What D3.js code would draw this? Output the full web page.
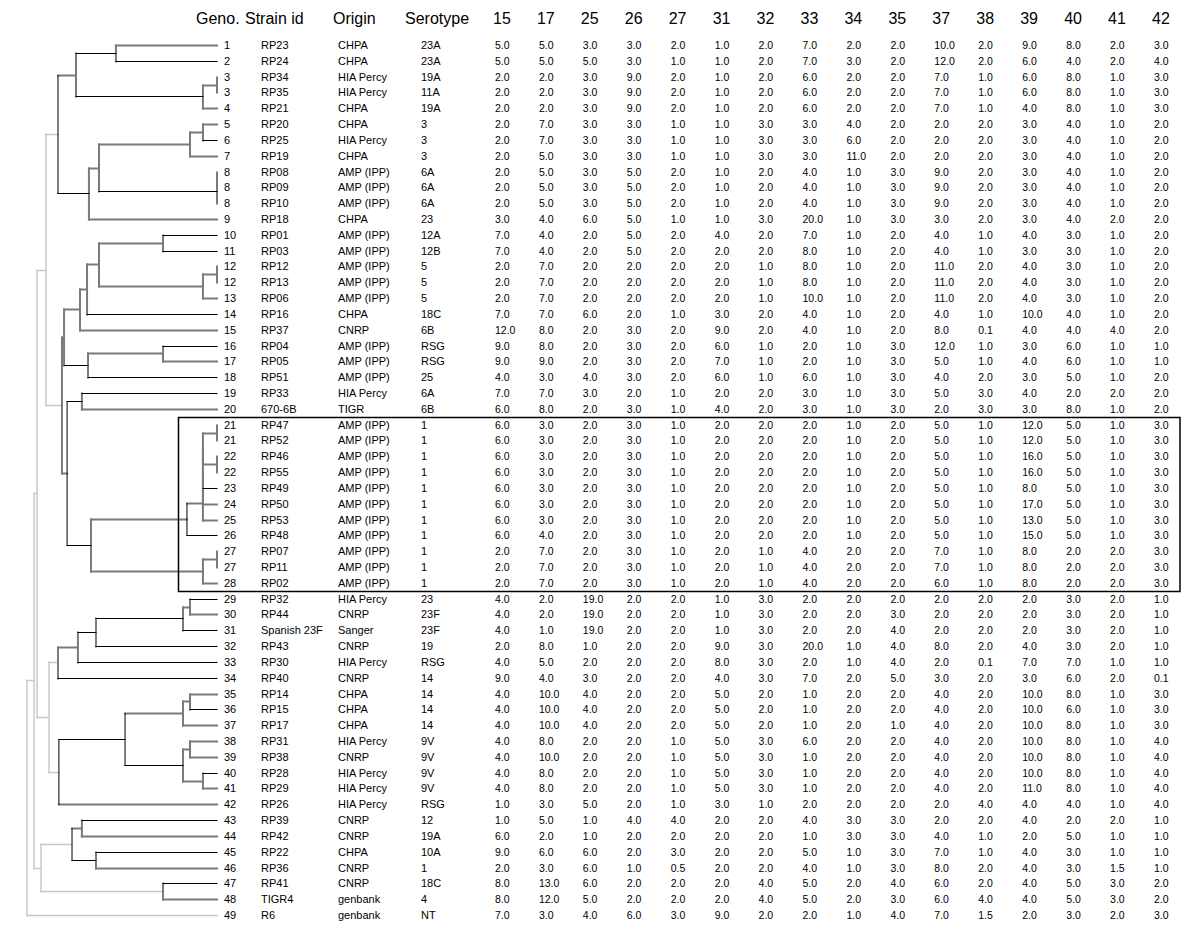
<!DOCTYPE html>
<html>
<head>
<meta charset="utf-8">
<script src="https://cdn.jsdelivr.net/npm/d3@7"></script>
<style>
body { margin: 0; background: #fff; }
svg text { font-family: "Liberation Sans", Arial, sans-serif; fill: #000; }
</style>
</head>
<body>
<div id="chart"></div>
<script>
// MLVA table with UPGMA-like dendrogram

const loci = ["15", "17", "25", "26", "27", "31", "32", "33", "34", "35", "37", "38", "39", "40", "41", "42"];

const genotypes = [1, 2, 3, 3, 4, 5, 6, 7, 8, 8, 8, 9, 10, 11, 12, 12, 13, 14, 15, 16, 17, 18, 19, 20,
    21, 21, 22, 22, 23, 24, 25, 26, 27, 27, 28,
    29, 30, 31, 32, 33, 34, 35, 36, 37, 38, 39, 40, 41, 42, 43, 44, 45, 46, 47, 48, 49];

const strainIds = ["RP23", "RP24", "RP34", "RP35", "RP21", "RP20", "RP25", "RP19", "RP08", "RP09", "RP10", "RP18",
    "RP01", "RP03", "RP12", "RP13", "RP06", "RP16", "RP37", "RP04", "RP05", "RP51", "RP33", "670-6B",
    "RP47", "RP52", "RP46", "RP55", "RP49", "RP50", "RP53", "RP48", "RP07", "RP11", "RP02",
    "RP32", "RP44", "Spanish 23F", "RP43", "RP30", "RP40", "RP14", "RP15", "RP17", "RP31", "RP38",
    "RP28", "RP29", "RP26", "RP39", "RP42", "RP22", "RP36", "RP41", "TIGR4", "R6"];

const origins = ["CHPA", "CHPA", "HIA Percy", "HIA Percy", "CHPA", "CHPA", "HIA Percy", "CHPA",
    "AMP (IPP)", "AMP (IPP)", "AMP (IPP)", "CHPA", "AMP (IPP)", "AMP (IPP)", "AMP (IPP)", "AMP (IPP)",
    "AMP (IPP)", "CHPA", "CNRP", "AMP (IPP)", "AMP (IPP)", "AMP (IPP)", "HIA Percy", "TIGR",
    "AMP (IPP)", "AMP (IPP)", "AMP (IPP)", "AMP (IPP)", "AMP (IPP)", "AMP (IPP)", "AMP (IPP)",
    "AMP (IPP)", "AMP (IPP)", "AMP (IPP)", "AMP (IPP)",
    "HIA Percy", "CNRP", "Sanger", "CNRP", "HIA Percy", "CNRP", "CHPA", "CHPA", "CHPA", "HIA Percy",
    "CNRP", "HIA Percy", "HIA Percy", "HIA Percy", "CNRP", "CNRP", "CHPA", "CNRP", "CNRP", "genbank", "genbank"];

const serotypes = ["23A", "23A", "19A", "11A", "19A", "3", "3", "3", "6A", "6A", "6A", "23", "12A", "12B",
    "5", "5", "5", "18C", "6B", "RSG", "RSG", "25", "6A", "6B",
    "1", "1", "1", "1", "1", "1", "1", "1", "1", "1", "1",
    "23", "23F", "23F", "19", "RSG", "14", "14", "14", "14", "9V", "9V", "9V", "9V", "RSG",
    "12", "19A", "10A", "1", "18C", "4", "NT"];

// repeat counts per locus (same order as loci)
const repeats = [
    [5, 5, 3, 3, 2, 1, 2, 7, 2, 2, 10, 2, 9, 8, 2, 3],
    [5, 5, 5, 3, 1, 1, 2, 7, 3, 2, 12, 2, 6, 4, 2, 4],
    [2, 2, 3, 9, 2, 1, 2, 6, 2, 2, 7, 1, 6, 8, 1, 3],
    [2, 2, 3, 9, 2, 1, 2, 6, 2, 2, 7, 1, 6, 8, 1, 3],
    [2, 2, 3, 9, 2, 1, 2, 6, 2, 2, 7, 1, 4, 8, 1, 3],
    [2, 7, 3, 3, 1, 1, 3, 3, 4, 2, 2, 2, 3, 4, 1, 2],
    [2, 7, 3, 3, 1, 1, 3, 3, 6, 2, 2, 2, 3, 4, 1, 2],
    [2, 5, 3, 3, 1, 1, 3, 3, 11, 2, 2, 2, 3, 4, 1, 2],
    [2, 5, 3, 5, 2, 1, 2, 4, 1, 3, 9, 2, 3, 4, 1, 2],
    [2, 5, 3, 5, 2, 1, 2, 4, 1, 3, 9, 2, 3, 4, 1, 2],
    [2, 5, 3, 5, 2, 1, 2, 4, 1, 3, 9, 2, 3, 4, 1, 2],
    [3, 4, 6, 5, 1, 1, 3, 20, 1, 3, 3, 2, 3, 4, 2, 2],
    [7, 4, 2, 5, 2, 4, 2, 7, 1, 2, 4, 1, 4, 3, 1, 2],
    [7, 4, 2, 5, 2, 2, 2, 8, 1, 2, 4, 1, 3, 3, 1, 2],
    [2, 7, 2, 2, 2, 2, 1, 8, 1, 2, 11, 2, 4, 3, 1, 2],
    [2, 7, 2, 2, 2, 2, 1, 8, 1, 2, 11, 2, 4, 3, 1, 2],
    [2, 7, 2, 2, 2, 2, 1, 10, 1, 2, 11, 2, 4, 3, 1, 2],
    [7, 7, 6, 2, 1, 3, 2, 4, 1, 2, 4, 1, 10, 4, 1, 2],
    [12, 8, 2, 3, 2, 9, 2, 4, 1, 2, 8, 0.1, 4, 4, 4, 2],
    [9, 8, 2, 3, 2, 6, 1, 2, 1, 3, 12, 1, 3, 6, 1, 1],
    [9, 9, 2, 3, 2, 7, 1, 2, 1, 3, 5, 1, 4, 6, 1, 1],
    [4, 3, 4, 3, 2, 6, 1, 6, 1, 3, 4, 2, 3, 5, 1, 2],
    [7, 7, 3, 2, 1, 2, 2, 3, 1, 3, 5, 3, 4, 2, 2, 2],
    [6, 8, 2, 3, 1, 4, 2, 3, 1, 3, 2, 3, 3, 8, 1, 2],
    [6, 3, 2, 3, 1, 2, 2, 2, 1, 2, 5, 1, 12, 5, 1, 3],
    [6, 3, 2, 3, 1, 2, 2, 2, 1, 2, 5, 1, 12, 5, 1, 3],
    [6, 3, 2, 3, 1, 2, 2, 2, 1, 2, 5, 1, 16, 5, 1, 3],
    [6, 3, 2, 3, 1, 2, 2, 2, 1, 2, 5, 1, 16, 5, 1, 3],
    [6, 3, 2, 3, 1, 2, 2, 2, 1, 2, 5, 1, 8, 5, 1, 3],
    [6, 3, 2, 3, 1, 2, 2, 2, 1, 2, 5, 1, 17, 5, 1, 3],
    [6, 3, 2, 3, 1, 2, 2, 2, 1, 2, 5, 1, 13, 5, 1, 3],
    [6, 4, 2, 3, 1, 2, 2, 2, 1, 2, 5, 1, 15, 5, 1, 3],
    [2, 7, 2, 3, 1, 2, 1, 4, 2, 2, 7, 1, 8, 2, 2, 3],
    [2, 7, 2, 3, 1, 2, 1, 4, 2, 2, 7, 1, 8, 2, 2, 3],
    [2, 7, 2, 3, 1, 2, 1, 4, 2, 2, 6, 1, 8, 2, 2, 3],
    [4, 2, 19, 2, 2, 1, 3, 2, 2, 2, 2, 2, 2, 3, 2, 1],
    [4, 2, 19, 2, 2, 1, 3, 2, 2, 3, 2, 2, 2, 3, 2, 1],
    [4, 1, 19, 2, 2, 1, 3, 2, 2, 4, 2, 2, 2, 3, 2, 1],
    [2, 8, 1, 2, 2, 9, 3, 20, 1, 4, 8, 2, 4, 3, 2, 1],
    [4, 5, 2, 2, 2, 8, 3, 2, 1, 4, 2, 0.1, 7, 7, 1, 1],
    [9, 4, 3, 2, 2, 4, 3, 7, 2, 5, 3, 2, 3, 6, 2, 0.1],
    [4, 10, 4, 2, 2, 5, 2, 1, 2, 2, 4, 2, 10, 8, 1, 3],
    [4, 10, 4, 2, 2, 5, 2, 1, 2, 2, 4, 2, 10, 6, 1, 3],
    [4, 10, 4, 2, 2, 5, 2, 1, 2, 1, 4, 2, 10, 8, 1, 3],
    [4, 8, 2, 2, 1, 5, 3, 6, 2, 2, 4, 2, 10, 8, 1, 4],
    [4, 10, 2, 2, 1, 5, 3, 1, 2, 2, 4, 2, 10, 8, 1, 4],
    [4, 8, 2, 2, 1, 5, 3, 1, 2, 2, 4, 2, 10, 8, 1, 4],
    [4, 8, 2, 2, 1, 5, 3, 1, 2, 2, 4, 2, 11, 8, 1, 4],
    [1, 3, 5, 2, 1, 3, 1, 2, 2, 2, 2, 4, 4, 4, 1, 4],
    [1, 5, 1, 4, 4, 2, 2, 4, 3, 3, 2, 2, 4, 2, 2, 1],
    [6, 2, 1, 2, 2, 2, 2, 1, 3, 3, 4, 1, 2, 5, 1, 1],
    [9, 6, 6, 2, 3, 2, 2, 5, 1, 3, 7, 1, 4, 3, 1, 1],
    [2, 3, 6, 1, 0.5, 2, 2, 4, 1, 3, 8, 2, 4, 3, 1.5, 1],
    [8, 13, 6, 2, 2, 2, 4, 5, 2, 4, 6, 2, 4, 5, 3, 2],
    [8, 12, 5, 2, 2, 2, 4, 5, 2, 3, 6, 4, 4, 5, 3, 2],
    [7, 3, 4, 6, 3, 9, 2, 2, 1, 4, 7, 1.5, 2, 3, 2, 3]
];

// genotypes inside the framed serotype-1 group
const boxedGenotypes = [21, 28];

// dendrogram: node(height, verticalTone, edgeTone, ...children), leaf(row, edgeTone)
// tones: k = black, g = grey, l = light grey
const leaf = (row, e) => ({ row, e });
const node = (h, v, e, ...children) => ({ h, v, e, children });

const tree = node(1.000, "l", null,
    node(0.963, "l", "l",
        node(0.947, "l", "l",
            node(0.900, "l", "l",
                node(0.837, "k", "l",
                    node(0.742, "g", "g",
                        node(0.532, "g", "k", leaf(0, "g"), leaf(1, "k")),
                        node(0.074, "g", "k",
                            node(0, "g", "g", leaf(2, "g"), leaf(3, "g")),
                            leaf(4, "g"))),
                    node(0.674, "g", "k",
                        node(0.621, "g", "g",
                            node(0.142, "g", "g",
                                node(0.074, "g", "g", leaf(5, "g"), leaf(6, "k")),
                                leaf(7, "g")),
                            node(0, "g", "k",
                                node(0, "g", "g", leaf(8, "g"), leaf(9, "g")),
                                leaf(10, "g"))),
                        leaf(11, "g"))),
                node(0.816, "g", "l",
                    node(0.805, "g", "g",
                        node(0.721, "g", "g",
                            node(0.684, "g", "g",
                                node(0.621, "g", "g",
                                    node(0.284, "g", "g", leaf(12, "k"), leaf(13, "k")),
                                    node(0.074, "g", "g",
                                        node(0, "g", "g", leaf(14, "g"), leaf(15, "g")),
                                        leaf(16, "g"))),
                                leaf(17, "k")),
                            leaf(18, "g")),
                        node(0.679, "g", "k",
                            node(0.284, "g", "g", leaf(19, "k"), leaf(20, "g")),
                            leaf(21, "k"))),
                    node(0.789, "k", "g",
                        node(0.711, "g", "k", leaf(22, "k"), leaf(23, "g")),
                        node(0.663, "g", "k",
                            node(0.158, "k", "g",
                                node(0.074, "g", "g",
                                    node(0.074, "g", "g",
                                        node(0.074, "g", "g",
                                            node(0.074, "g", "g",
                                                node(0, "g", "g", leaf(24, "g"), leaf(25, "g")),
                                                node(0, "g", "g", leaf(26, "g"), leaf(27, "g"))),
                                            leaf(28, "k")),
                                        leaf(29, "g")),
                                    leaf(30, "g")),
                                leaf(31, "k")),
                            node(0.074, "g", "g",
                                node(0, "g", "g", leaf(32, "g"), leaf(33, "g")),
                                leaf(34, "g")))))),
            node(0.884, "l", "l",
                node(0.837, "g", "l",
                    node(0.732, "g", "g",
                        node(0.637, "g", "k",
                            node(0.179, "g", "k",
                                node(0.142, "g", "g", leaf(35, "k"), leaf(36, "g")),
                                leaf(37, "k")),
                            leaf(38, "k")),
                        leaf(39, "k")),
                    leaf(40, "k")),
                node(0.832, "k", "l",
                    node(0.484, "k", "k",
                        node(0.179, "g", "g",
                            node(0.142, "g", "g", leaf(41, "g"), leaf(42, "k")),
                            leaf(43, "g")),
                        node(0.179, "g", "k",
                            node(0.142, "g", "g", leaf(44, "g"), leaf(45, "g")),
                            node(0.074, "g", "g", leaf(46, "k"), leaf(47, "g")))),
                    leaf(48, "g")))),
        node(0.926, "l", "l",
            node(0.763, "k", "l",
                node(0.711, "g", "g", leaf(49, "k"), leaf(50, "g")),
                node(0.637, "g", "k", leaf(51, "k"), leaf(52, "g"))),
            node(0.284, "g", "l", leaf(53, "k"), leaf(54, "g")))),
    leaf(55, "l"));

const width = 1200;
const height = 939;

const svg = d3.select("#chart")
    .append("svg")
    .attr("width", width)
    .attr("height", height);

// scales
const y = d3.scaleLinear()
    .domain([0, genotypes.length - 1])
    .range([45, 915]);

const treeX = d3.scaleLinear()
    .domain([0, 1])
    .range([217, 27]);

const colX = d3.scalePoint()
    .domain(loci)
    .range([494, 1153]);

const tone = d3.scaleOrdinal()
    .domain(["k", "g", "l"])
    .range(["#000000", "#7a7a7a", "#c8c8c8"]);
const toneWidth = { k: 1, g: 2, l: 1.5 };

// dendrogram layout
const root = d3.hierarchy(tree);
root.eachAfter(d => {
    if (d.children) {
        d.py = (d.children[0].py + d.children[d.children.length - 1].py) / 2;
        d.px = treeX(d.data.h);
    } else {
        d.py = y(d.data.row);
        d.px = treeX(0);
    }
});

const segments = [];
root.each(d => {
    if (d.parent) {
        segments.push({ x1: d.parent.px, x2: d.px, y1: d.py, y2: d.py, t: d.data.e });
    }
    if (d.children) {
        segments.push({
            x1: d.px, x2: d.px,
            y1: d.children[0].py, y2: d.children[d.children.length - 1].py,
            t: d.data.v
        });
    }
});
const order = { l: 0, g: 1, k: 2 };
segments.sort((a, b) => order[a.t] - order[b.t]);

svg.append("g")
    .attr("class", "tree")
    .selectAll("line")
    .data(segments.filter(s => s.x1 !== s.x2 || s.y1 !== s.y2))
    .enter()
    .append("line")
    .attr("x1", d => d.x1)
    .attr("x2", d => d.x2)
    .attr("y1", d => Math.round(d.y1) + 0.5)
    .attr("y2", d => Math.round(d.y2) + 0.5)
    .attr("stroke", d => tone(d.t))
    .attr("stroke-width", d => toneWidth[d.t])
    .attr("stroke-linecap", "square");

// header
const headers = [
    { text: "Geno.", x: 196 },
    { text: "Strain id", x: 245 },
    { text: "Origin", x: 333 },
    { text: "Serotype", x: 405 }
];
svg.append("g")
    .selectAll("text")
    .data(headers)
    .enter()
    .append("text")
    .attr("x", d => d.x)
    .attr("y", 24)
    .style("font-size", "16px")
    .text(d => d.text);

svg.append("g")
    .selectAll("text")
    .data(loci)
    .enter()
    .append("text")
    .attr("x", d => colX(d) - 1)
    .attr("y", 24)
    .style("font-size", "16px")
    .text(d => d);

// rows
const rows = genotypes.map((g, i) => ({
    i, g, id: strainIds[i], origin: origins[i], sero: serotypes[i], vals: repeats[i]
}));

const rowG = svg.append("g")
    .attr("class", "rows")
    .selectAll("g")
    .data(rows)
    .enter()
    .append("g")
    .attr("transform", d => `translate(0,${y(d.i) + 4})`)
    .style("font-size", "11px");

rowG.append("text").attr("x", 224).text(d => d.g);
rowG.append("text").attr("x", 261).text(d => d.id);
rowG.append("text").attr("x", 338).text(d => d.origin);
rowG.append("text").attr("x", 421).text(d => d.sero);

rowG.selectAll("text.val")
    .data(d => d.vals.map((v, k) => ({ v, locus: loci[k] })))
    .enter()
    .append("text")
    .attr("class", "val")
    .attr("x", d => colX(d.locus) + 1)
    .style("font-size", "10.5px")
    .text(d => d.v.toFixed(1));

// frame around serotype 1 group
const firstBoxed = genotypes.indexOf(boxedGenotypes[0]);
const lastBoxed = genotypes.lastIndexOf(boxedGenotypes[1]);
const step = y(1) - y(0);
svg.append("rect")
    .attr("x", 178.5)
    .attr("y", Math.round(y(firstBoxed) - step / 2) + 0.5)
    .attr("width", colX(loci[loci.length - 1]) + 27 - 178.5)
    .attr("height", Math.round(y(lastBoxed) - y(firstBoxed) + step))
    .attr("fill", "none")
    .attr("stroke", "#000")
    .attr("stroke-width", 1.5);
</script>
</body>
</html>
